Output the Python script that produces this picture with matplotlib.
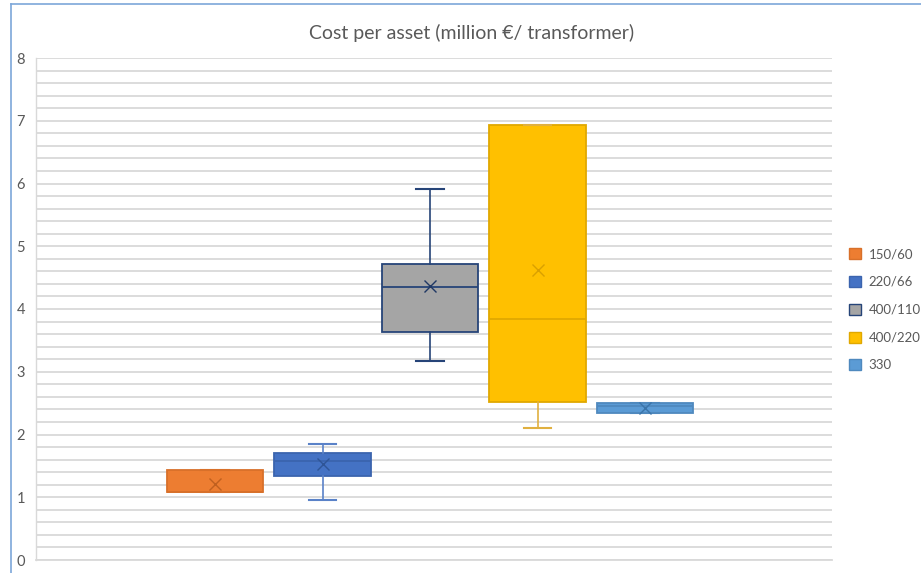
import matplotlib.pyplot as plt
from matplotlib.patches import Patch
from matplotlib.lines import Line2D
import numpy as np

# ================================
# Data
# ================================
labels = ["150/60", "220/66", "400/110", "400/220", "330"]
q1 = [1.09, 1.34, 3.63, 2.51, 2.35]
median = [1.09, 1.58, 4.35, 3.84, 2.45]
q3 = [1.43, 1.71, 4.71, 6.93, 2.50]
whis_low = [1.09, 0.95, 3.17, 2.11, 2.35]
whis_high = [1.43, 1.85, 5.91, 6.93, 2.50]
means = [1.21, 1.53, 4.36, 4.62, 2.43]

face_colors = ["#ED7D31", "#4472C4", "#A5A5A5", "#FFC000", "#5B9BD5"]
edge_colors = ["#D8702A", "#3B64AE", "#264478", "#E0A800", "#4F89BE"]
whisker_colors = ["#D8702A", "#5A82C8", "#264478", "#E0B040", "#4F89BE"]
mean_colors = ["#C0601F", "#2F5597", "#203864", "#D9A000", "#3A74AA"]

plt.rcParams['font.family'] = ['Lato', 'DejaVu Sans']

fig = plt.figure(figsize=(9.21, 5.73), dpi=100)
ax = fig.add_axes([36 / 921, 13 / 573, 796 / 921, 502 / 573])

stats = []
for i in range(len(labels)):
    stats.append({"label": labels[i], "q1": q1[i], "med": median[i], "q3": q3[i],
                  "whislo": whis_low[i], "whishi": whis_high[i],
                  "mean": means[i], "fliers": []})

positions = np.arange(1, len(labels) + 1)
bp = ax.bxp(stats, positions=positions, widths=0.9, patch_artist=True,
            showmeans=True, showfliers=False, manage_ticks=False)

for i in range(len(labels)):
    bp["boxes"][i].set_facecolor(face_colors[i])
    bp["boxes"][i].set_edgecolor(edge_colors[i])
    bp["boxes"][i].set_linewidth(1.3)
    bp["medians"][i].set_color(edge_colors[i])
    bp["medians"][i].set_linewidth(1.3)
    for w in bp["whiskers"][2 * i:2 * i + 2]:
        w.set_color(whisker_colors[i])
        w.set_linewidth(1.2)
    for c in bp["caps"][2 * i:2 * i + 2]:
        c.set_color(whisker_colors[i])
        c.set_linewidth(1.5)
        c.set_xdata([positions[i] - 0.13, positions[i] + 0.13])
    bp["means"][i].set_marker("x")
    bp["means"][i].set_markeredgecolor(mean_colors[i])
    bp["means"][i].set_markersize(8)
    bp["means"][i].set_markeredgewidth(1.0)

ax.set_xlim(1 - 179 / 107.5, 5 + 187 / 107.5)
ax.set_ylim(0, 8)
ax.set_yticks(np.arange(0, 9, 1))
ax.set_yticks(np.arange(0, 8.01, 0.2), minor=True)
ax.set_xticks([])
ax.grid(axis="y", which="both", color="#D9D9D9", linewidth=1.3, zorder=0)
ax.set_axisbelow(True)
ax.tick_params(axis="y", which="both", length=0, labelsize=10.5, labelcolor="#595959", pad=8)

for side in ["top", "right"]:
    ax.spines[side].set_visible(False)
ax.spines["left"].set_color("#D9D9D9")
ax.spines["bottom"].set_color("#D9D9D9")
ax.spines["left"].set_linewidth(1.0)
ax.spines["bottom"].set_linewidth(1.3)

fig.text(472 / 921, 1 - 33 / 573, "Cost per asset (million €/ transformer)",
         ha="center", va="center", fontsize=14, color="#595959")

handles = [Patch(facecolor=face_colors[i], edgecolor=edge_colors[i], linewidth=1.0)
           for i in range(len(labels))]
fig.legend(handles, labels, loc="upper left", bbox_to_anchor=(849 / 921, 1 - 248 / 573),
           frameon=False, fontsize=9.5, labelcolor="#595959",
           handlelength=0.9, handleheight=0.9, handletextpad=0.6, labelspacing=1.2,
           borderaxespad=0, borderpad=0)

# chart frame (partially visible)
fig.add_artist(Line2D([11 / 921, 11 / 921], [0, 1 - 4 / 573], color="#7DA7D9", linewidth=1.2))
fig.add_artist(Line2D([11 / 921, 1], [1 - 4 / 573, 1 - 4 / 573], color="#7DA7D9", linewidth=1.2))

fig.savefig("out.png", dpi=100)
